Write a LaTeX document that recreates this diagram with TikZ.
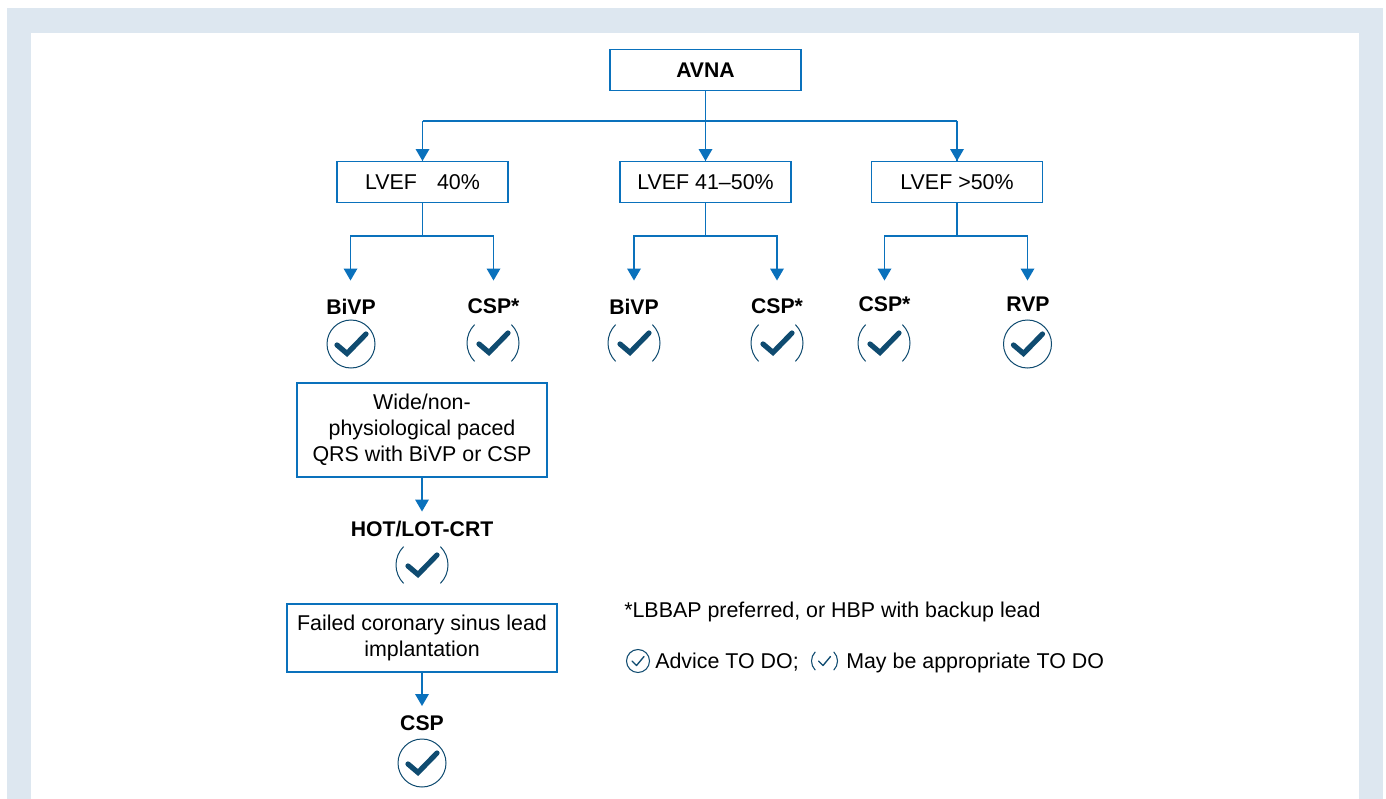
\documentclass[tikz,border=0pt]{standalone}
\usepackage{fontspec}
\setmainfont{Liberation Sans}
\definecolor{band}{HTML}{DDE7F0}
\definecolor{flow}{HTML}{0A71BC}
\definecolor{tick}{HTML}{0F4B70}
\tikzset{
  x=0.75pt,y=-0.75pt,
  box/.style={draw=flow,line width=0.85pt,fill=white,align=center,inner sep=0pt,font=\fontsize{16.05}{19.5}\selectfont},
  lab/.style={font=\bfseries\fontsize{15.9}{19.5}\selectfont,inner sep=0pt},
  txt/.style={font=\fontsize{16.05}{19.5}\selectfont,inner sep=0pt,anchor=base west},
  flowline/.style={draw=flow,line width=0.85pt},
  tri/.style={fill=flow,draw=none},
  ring/.style={draw=tick,line width=0.75pt,fill=none},
  tickmark/.style={draw=tick,line width=3.9pt,line cap=round,line join=miter},
  smallring/.style={draw=tick,line width=0.8pt,fill=none},
  smalltick/.style={draw=tick,line width=1pt,line cap=round,line join=round},
}
\newcommand{\fulltick}[2]{%
  \draw[ring] (#1,#2) circle[radius=24];
  \draw[tickmark] (#1-14,#2+1) -- (#1-4,#2+9.5) -- (#1+15,#2-10);}
\newcommand{\maytick}[2]{%
  \draw[ring] (#1,#2) +(135:26) arc[start angle=135,end angle=225,radius=26];
  \draw[ring] (#1,#2) +(-45:26) arc[start angle=-45,end angle=45,radius=26];
  \draw[tickmark] (#1-14,#2+1) -- (#1-4,#2+9.5) -- (#1+15,#2-10);}
\newcommand{\arrowto}[2]{\fill[tri] (#1-7,#2-12) -- (#1+7,#2-12) -- (#1,#2) -- cycle;}
\begin{document}
\begin{tikzpicture}
\useasboundingbox (0,0) rectangle (1386,799);
\fill[white] (0,0) rectangle (1386,799);
\fill[band] (7,8.5) rectangle (1383,799);
\fill[white] (31,33) rectangle (1359,799);
% boxes
\node[box,font=\bfseries\fontsize{15.9}{19.5}\selectfont,minimum width=191*0.75pt,minimum height=41*0.75pt] (avna) at (705.5,70) {AVNA};
\node[box,minimum width=171*0.75pt,minimum height=41*0.75pt] (a) at (422.5,182) {LVEF\hspace{15pt}40\%};
\node[box,minimum width=171*0.75pt,minimum height=41*0.75pt] (b) at (705.5,182) {LVEF 41–50\%};
\node[box,minimum width=171*0.75pt,minimum height=41*0.75pt] (c) at (957,182) {LVEF >50\%};
\node[box,minimum width=250*0.75pt,minimum height=94*0.75pt] (wide) at (422,430) {Wide/non-\\physiological paced\\QRS with BiVP or CSP};
\node[box,minimum width=270*0.75pt,minimum height=68*0.75pt] (fail) at (422,638) {Failed coronary sinus lead\\implantation};
% labels
\node[lab] (l1) at (351,306.5) {BiVP};
\node[lab] (l2) at (493.5,306.5) {CSP*};
\node[lab] (l3) at (634,306.5) {BiVP};
\node[lab] (l4) at (777,306.5) {CSP*};
\node[lab] (l5) at (884.5,304) {CSP*};
\node[lab] (l6) at (1028,304) {RVP};
\node[lab] (l7) at (422,529) {HOT/LOT-CRT};
\node[lab] (l8) at (422,723.5) {CSP};
% ticks
\fulltick{351}{344}
\maytick{493}{343}
\maytick{634}{343}
\maytick{777}{343}
\maytick{884}{343}
\fulltick{1027.5}{344}
\maytick{422}{565}
\fulltick{422}{763}
% connectors
\coordinate (j0) at (705.5,121);
\coordinate (ja) at (422.5,121);
\coordinate (jc) at (957,121);
\draw[flowline] (avna.south) -- (j0);
\draw[flowline] (ja) -- (jc);
\draw[flowline] (ja) -- (a.north);
\draw[flowline] (j0) -- (b.north);
\draw[flowline] (jc) -- (c.north);
\arrowto{422.5}{161}\arrowto{705.5}{161}\arrowto{957}{161}
\coordinate (ka) at (422.5,236);
\coordinate (kb) at (705.5,236);
\coordinate (kc) at (957,236);
\draw[flowline] (a.south) -- (ka);
\draw[flowline] (b.south) -- (kb);
\draw[flowline] (c.south) -- (kc);
\coordinate (a1) at (350.5,270);\coordinate (a2) at (493.5,270);
\coordinate (b1) at (634,270);\coordinate (b2) at (777,270);
\coordinate (c1) at (884.5,270);\coordinate (c2) at (1027.5,270);
\draw[flowline] (a1) |- (ka) -| (a2);
\draw[flowline] (b1) |- (kb) -| (b2);
\draw[flowline] (c1) |- (kc) -| (c2);
\arrowto{350.5}{280.5}\arrowto{493.5}{280.5}\arrowto{634}{280.5}\arrowto{777}{280.5}\arrowto{884.5}{280.5}\arrowto{1027.5}{280.5}
\coordinate (m1) at (422,500);
\draw[flowline] (wide.south) -- (m1);
\arrowto{422}{511.5}
\coordinate (m2) at (422,695);
\draw[flowline] (fail.south) -- (m2);
\arrowto{422}{706}
% notes
\node[txt] (n1) at (624,617) {*LBBAP preferred, or HBP with backup lead};
\draw[smallring] (638,661) circle[radius=11.5];
\draw[smalltick] (632,661) -- (636.5,665.5) -- (644,656.5);
\node[txt] (n2) at (655,668) {Advice TO DO;};
\draw[smallring] (824.5,661) +(135:13) arc[start angle=135,end angle=225,radius=13];
\draw[smallring] (824.5,661) +(-45:13) arc[start angle=-45,end angle=45,radius=13];
\draw[smalltick] (818.5,661) -- (823,665.5) -- (830.5,656.5);
\node[txt] (n3) at (846,668) {May be appropriate TO DO};
\end{tikzpicture}
\end{document}
